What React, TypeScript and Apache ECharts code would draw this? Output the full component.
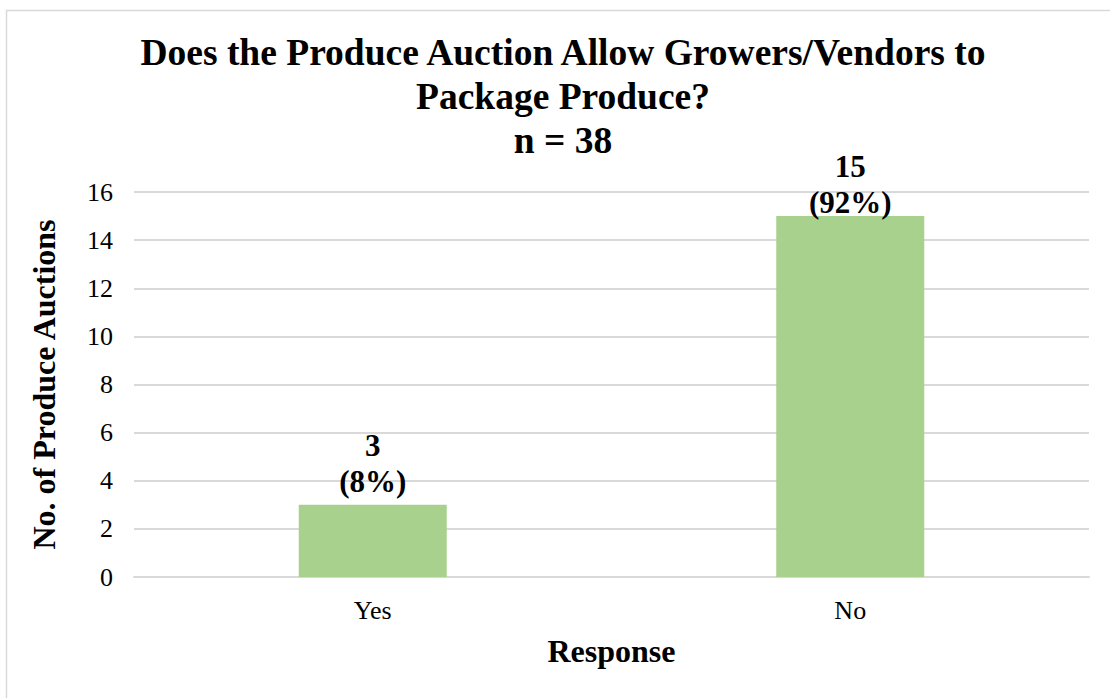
import React, { useEffect, useRef } from "react";
import * as echarts from "echarts";

const titleLines = ["Does the Produce Auction Allow Growers/Vendors to", "Package Produce?", "n = 38"];
const categories = ["Yes", "No"];
const counts = [3, 15];
const percentLabels = ["8%", "92%"];
const labelDistances = [5, -4];
const yTicks = { min: 0, max: 16, interval: 2 };
const yAxisName = "No. of Produce Auctions";
const xAxisName = "Response";

const FONT = "'Liberation Serif', 'Times New Roman', serif";

export default function App() {
  const ref = useRef<HTMLDivElement>(null);
  useEffect(() => {
    if (!ref.current) return;
    const chart = echarts.init(ref.current, undefined, { renderer: "svg" });
    chart.setOption({
      animation: false,
      backgroundColor: "#ffffff",
      textStyle: { fontFamily: FONT },
      title: {
        text: titleLines.join("\n"),
        left: 563,
        top: 30,
        padding: 0,
        textAlign: "center",
        textStyle: {
          fontFamily: FONT,
          fontSize: 37.5,
          fontWeight: "bold",
          lineHeight: 44,
          color: "#000",
        },
      },
      graphic: [
        {
          type: "rect",
          shape: { x: 6.5, y: 10.5, width: 1120, height: 700 },
          style: { fill: "none", stroke: "#d9d9d9", lineWidth: 1.5 },
          silent: true,
        },
      ],
      grid: { left: 134, right: 21, top: 192, bottom: 121, containLabel: false },
      xAxis: {
        type: "category",
        data: categories,
        name: xAxisName,
        nameLocation: "middle",
        nameGap: 58,
        nameTextStyle: { fontFamily: FONT, fontSize: 32, fontWeight: "bold", color: "#000" },
        axisLine: { show: true, lineStyle: { color: "#d9d9d9", width: 2 } },
        axisTick: { show: false },
        axisLabel: { fontFamily: FONT, fontSize: 26, color: "#000", margin: 20 },
      },
      yAxis: {
        type: "value",
        min: yTicks.min,
        max: yTicks.max,
        interval: yTicks.interval,
        name: yAxisName,
        nameLocation: "middle",
        nameGap: 74,
        nameRotate: 90,
        nameTextStyle: { fontFamily: FONT, fontSize: 32, fontWeight: "bold", color: "#000" },
        axisLine: { show: false },
        axisTick: { show: false },
        axisLabel: { fontFamily: FONT, fontSize: 26, color: "#000", margin: 21 },
        splitLine: { lineStyle: { color: "#d9d9d9", width: 2 } },
      },
      series: [
        {
          type: "bar",
          barWidth: "31%",
          itemStyle: { color: "#a9d18e" },
          data: counts.map((v, i) => ({
            value: v,
            label: { distance: labelDistances[i] },
          })),
          label: {
            show: true,
            position: "top",
            formatter: (p: any) => `${p.value}\n(${percentLabels[p.dataIndex]})`,
            fontFamily: FONT,
            fontSize: 31,
            fontWeight: "bold",
            lineHeight: 36,
            color: "#000",
          },
        },
      ],
    });
    return () => chart.dispose();
  }, []);
  return (
    <div
      ref={ref}
      style={{ position: "fixed", left: 0, top: 0, width: 1110, height: 698, background: "#fff" }}
    />
  );
}
